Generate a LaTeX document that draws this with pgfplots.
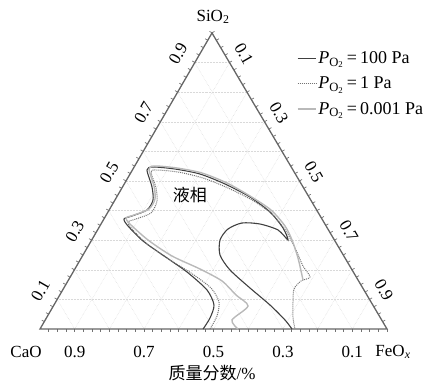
\documentclass[border=0pt]{standalone}
\usepackage{fontspec}
\setmainfont{Liberation Serif}
\newfontfamily\cjk{Noto Sans CJK SC}
\usepackage{pgfplots}
\usepackage{pgfplotstable}
\pgfplotsset{compat=1.18}

% Liquidus boundaries, mass fractions (SiO2, CaO, FeOx)
\pgfplotstableread{
si     ca     fe
0.0000 0.5300 0.4700
0.0372 0.4913 0.4715
0.0811 0.4577 0.4612
0.1318 0.4522 0.4160
0.1926 0.4792 0.3282
0.2399 0.5130 0.2471
0.2973 0.5532 0.1495
0.3480 0.5709 0.0811
0.3716 0.5705 0.0579
0.3818 0.5423 0.0759
0.4020 0.4889 0.1091
0.4358 0.4546 0.1096
0.4797 0.4353 0.0850
0.5372 0.4207 0.0421
0.5473 0.3983 0.0544
0.5405 0.3384 0.1211
0.5236 0.2749 0.2015
0.4899 0.2198 0.2903
0.4459 0.1700 0.3841
0.3953 0.1378 0.4669
0.3412 0.1276 0.5312
0.3007 0.1336 0.5657
0.3345 0.1454 0.5201
0.3547 0.1871 0.4582
0.3581 0.2373 0.4046
0.3378 0.2879 0.3743
0.3007 0.3296 0.3697
0.2500 0.3552 0.3948
0.1993 0.3519 0.4488
0.1385 0.3250 0.5365
0.0811 0.2963 0.6226
0.0304 0.2786 0.6910
0.0000 0.2738 0.7262
}\pHigh

\pgfplotstableread{
si     ca     fe
0.0000 0.5101 0.4899
0.0439 0.4678 0.4883
0.0912 0.4382 0.4706
0.1385 0.4374 0.4241
0.1892 0.4694 0.3414
0.2331 0.5078 0.2591
0.2872 0.5468 0.1660
0.3378 0.5645 0.0977
0.3615 0.5641 0.0744
0.3716 0.5360 0.0924
0.3919 0.4825 0.1256
0.4324 0.4448 0.1228
0.4764 0.4254 0.0982
0.5304 0.4126 0.0570
0.5372 0.3948 0.0680
0.5304 0.3348 0.1348
0.5101 0.2730 0.2169
0.4764 0.2179 0.3057
0.4358 0.1693 0.3949
0.3885 0.1355 0.4760
0.3311 0.1241 0.5448
0.2669 0.1277 0.6054
0.2128 0.1348 0.6524
0.1757 0.1333 0.6910
0.1622 0.1660 0.6718
0.1351 0.1999 0.6650
0.0912 0.2249 0.6839
0.0372 0.2521 0.7107
0.0000 0.2651 0.7349
}\pMid

\pgfplotstableread{
si     ca     fe
0.0000 0.4294 0.5706
0.0304 0.4314 0.5382
0.0777 0.3614 0.5609
0.1149 0.3772 0.5079
0.1622 0.3937 0.4441
0.2027 0.4367 0.3606
0.2466 0.4952 0.2582
0.3007 0.5371 0.1622
0.3547 0.5618 0.0835
0.3750 0.5630 0.0620
0.3851 0.5349 0.0800
0.4054 0.4814 0.1132
0.4392 0.4471 0.1137
0.4831 0.4278 0.0891
0.5405 0.4133 0.0462
0.5507 0.3909 0.0584
0.5439 0.3309 0.1252
0.5270 0.2674 0.2056
0.4932 0.2124 0.2944
0.4493 0.1682 0.3825
0.4020 0.1316 0.4664
0.3480 0.1184 0.5336
0.3007 0.1221 0.5772
0.2399 0.1355 0.6246
0.1655 0.1586 0.6759
}\pLow

\begin{document}
\begin{tikzpicture}[font=\fontsize{17bp}{20bp}\selectfont]
\begin{axis}[
  scale only axis, width=347bp, height=296bp,
  xmin=0, xmax=1, ymin=0, ymax=1,
  axis lines=none, clip=false,
  legend cell align=left,
  legend image code/.code={\draw[#1] (0bp,0bp) -- (18bp,0bp);},
  legend style={at={(rel axis cs:0.74,0.945)}, anchor=north west,
    draw=none, fill=none, inner sep=0pt, row sep=8bp,
    nodes={inner sep=2bp},
    font=\fontsize{18bp}{21bp}\selectfont},
]
% grid lines parallel to the three edges
\pgfplotsinvokeforeach{0.1,0.2,0.3,0.4,0.5,0.6,0.7,0.8,0.9}{
  \draw[gray!30, densely dotted, line width=0.5pt]
    (axis cs:{0.4957*#1},#1) -- (axis cs:{1-#1+0.4957*#1},#1);
  \draw[gray!30, densely dotted, line width=0.5pt]
    (axis cs:#1,0) -- (axis cs:{#1+0.4957*(1-#1)},{1-#1});
  \draw[gray!30, densely dotted, line width=0.5pt]
    (axis cs:{1-#1},0) -- (axis cs:{0.4957*(1-#1)},{1-#1});
}
% ruler ticks on the edges
\pgfplotsinvokeforeach{0.025,0.05,...,0.99}{
  \draw[black!55, line width=0.7pt] (axis cs:#1,0) -- ++(0,-3bp);
  \draw[black!55, line width=0.7pt] (axis cs:{0.4957*#1},#1) -- ++(150:3bp);
  \draw[black!55, line width=0.7pt] (axis cs:{1-#1+0.4957*#1},#1) -- ++(30:3bp);
}
% triangle frame
\draw[black!60, line width=1.3pt] (axis cs:0,0) -- (axis cs:1,0)
  -- (axis cs:0.4957,1) -- cycle;

% edge tick labels
\pgfplotsinvokeforeach{0.1,0.3,0.5,0.7,0.9}{
  \path (axis cs:{0.4957*#1},#1) ++(152:19bp) node[rotate=60, inner sep=0pt] {#1};
  \path (axis cs:{#1+0.4957*(1-#1)},{1-#1}) ++(32:17bp) node[rotate=-60, inner sep=0pt] {#1};
}
\node at ([yshift=-23bp]axis cs:0.1,0) {0.9};
\node at ([yshift=-23bp]axis cs:0.3,0) {0.7};
\node at ([yshift=-23bp]axis cs:0.5,0) {0.5};
\node at ([yshift=-23bp]axis cs:0.7,0) {0.3};
\node at ([yshift=-23bp]axis cs:0.9,0) {0.1};
\node at ([xshift=-14bp,yshift=-23bp]axis cs:0,0) {CaO};
\node at ([xshift=6bp,yshift=-23bp]axis cs:1,0) {FeO\textsubscript{\textit{x}}};
\node at ([xshift=1bp,yshift=16bp]axis cs:0.4957,1) {SiO\textsubscript{2}};
\node[inner sep=0pt] at ([yshift=-44bp]axis cs:0.4957,0) {{\cjk 质量分数}/\%};
\node at (axis cs:0.432,0.453) {\cjk 液相};

\addplot[black!75, line width=1.1pt, smooth, tension=0.45]
  table[x expr=\thisrow{fe}+0.4957*\thisrow{si}, y=si] {\pHigh};
\addlegendentry{\textit{P}\textsubscript{O\textsubscript{2}}\,=\,100 Pa}
\addplot[black!55, line width=1pt, densely dotted, smooth, tension=0.45]
  table[x expr=\thisrow{fe}+0.4957*\thisrow{si}, y=si] {\pMid};
\addlegendentry{\textit{P}\textsubscript{O\textsubscript{2}}\,=\,1 Pa}
\addplot[gray!55, line width=1.4pt, smooth, tension=0.45]
  table[x expr=\thisrow{fe}+0.4957*\thisrow{si}, y=si] {\pLow};
\addlegendentry{\textit{P}\textsubscript{O\textsubscript{2}}\,=\,0.001 Pa}

\coordinate (sw) at (rel axis cs:0,0);
\coordinate (ne) at (rel axis cs:1,1);
\end{axis}
\pgfresetboundingbox
\path ([shift={(-40bp,-54bp)}]sw) rectangle ([shift={(61bp,33bp)}]ne);
\end{tikzpicture}
\end{document}
